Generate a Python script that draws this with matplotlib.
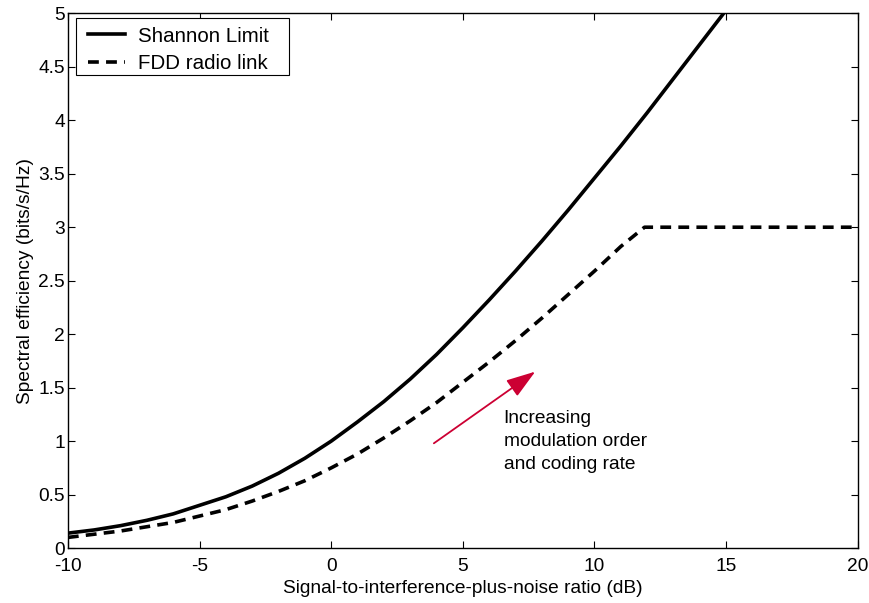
import matplotlib

matplotlib.use("Agg")
import matplotlib.pyplot as plt
from matplotlib.patches import Rectangle

# values (SINR in dB -> bits/s/Hz)
sinr_db = [-10, -9, -8, -7, -6, -5, -4, -3, -2, -1, 0, 1, 2, 3, 4, 5, 6, 7, 8, 9, 10, 11, 12, 13, 14, 15]
shannon = [0.14, 0.17, 0.21, 0.26, 0.32, 0.40, 0.48, 0.58, 0.70, 0.84, 1.00, 1.18, 1.37, 1.58, 1.81,
           2.06, 2.32, 2.59, 2.87, 3.16, 3.46, 3.76, 4.07, 4.39, 4.71, 5.03]

fdd_db = [-10, -9, -8, -7, -6, -5, -4, -3, -2, -1, 0, 1, 2, 3, 4, 5, 6, 7, 8, 9, 10, 11, 11.9, 20]
fdd = [0.10, 0.13, 0.16, 0.20, 0.24, 0.30, 0.36, 0.44, 0.53, 0.63, 0.75, 0.88, 1.03, 1.19, 1.36,
       1.55, 1.74, 1.94, 2.15, 2.37, 2.59, 2.82, 3.0, 3.0]

x_ticks = [-10, -5, 0, 5, 10, 15, 20]
y_ticks = [0, 0.5, 1, 1.5, 2, 2.5, 3, 3.5, 4, 4.5, 5]
y_tick_labels = ["0", "0.5", "1", "1.5", "2", "2.5", "3", "3.5", "4", "4.5", "5"]

plt.rcParams["font.family"] = ["Liberation Sans", "DejaVu Sans"]
plt.rcParams["font.size"] = 13.8
plt.rcParams["axes.unicode_minus"] = False

fig = plt.figure(figsize=(8.7, 6.03), dpi=100)
ax = fig.add_axes([0.078, 0.091, 0.908, 0.887])

ax.plot(sinr_db, shannon, color="black", lw=2.6, label="Shannon Limit")
ax.plot(fdd_db, fdd, color="black", lw=2.6, linestyle=(0, (3.0, 2.0)), label="FDD radio link")

ax.set_xlim(-10, 20)
ax.set_ylim(0, 5)
ax.set_xticks(x_ticks)
ax.set_yticks(y_ticks)
ax.set_yticklabels(y_tick_labels)
ax.tick_params(direction="in", top=True, right=True, length=5, width=0.8)
ax.tick_params(axis="x", pad=7)
ax.tick_params(axis="y", pad=2)
for s in ax.spines.values():
    s.set_linewidth(1.0)

ax.set_xlabel("Signal-to-interference-plus-noise ratio (dB)", labelpad=4)
ax.set_ylabel("Spectral efficiency (bits/s/Hz)", labelpad=3)

ax.annotate("", xy=(7.75, 1.65), xytext=(3.9, 0.98),
            arrowprops=dict(arrowstyle="-|>,head_length=0.9,head_width=0.3", color="#cc0033", lw=1.3,
                            mutation_scale=20, shrinkA=0, shrinkB=0))
ax.text(6.55, 1.0, "Increasing\nmodulation order\nand coding rate", ha="left", va="center",
        linespacing=1.45)

# matlab-style legend box: wide side padding, tight vertical padding
ax.add_patch(Rectangle((0.0101, 0.884), 0.2696, 0.1067, transform=ax.transAxes,
                       facecolor="white", edgecolor="black", lw=0.8, zorder=4))
leg = ax.legend(loc="upper left", bbox_to_anchor=(0.0253, 0.975), frameon=False,
                fontsize=14.8, handlelength=1.8, borderpad=0, labelspacing=0.4,
                borderaxespad=0, handletextpad=0.65)
leg.set_zorder(5)

fig.savefig("out.png", dpi=100)
